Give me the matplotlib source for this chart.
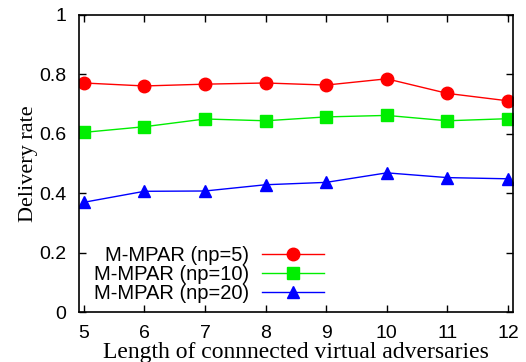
import numpy as np
import matplotlib
matplotlib.use('Agg')
import matplotlib.pyplot as plt

# Delivery rate vs. length of connected virtual adversaries
lengths = [5, 6, 7, 8, 9, 10, 11, 12]
np5 = [0.771, 0.761, 0.767, 0.771, 0.764, 0.785, 0.736, 0.711]
np10 = [0.605, 0.624, 0.650, 0.644, 0.657, 0.662, 0.644, 0.651]
np20 = [0.370, 0.407, 0.408, 0.429, 0.437, 0.469, 0.453, 0.449]
labels = ['M-MPAR (np=5)', 'M-MPAR (np=10)', 'M-MPAR (np=20)']

sans = 'Liberation Sans'
serif = 'Liberation Serif'

fig = plt.figure(figsize=(5.26, 3.62), dpi=100)
ax = fig.add_axes([0.150, 0.137, 0.825, 0.822])

ax.plot(lengths, np5, color='#ff0000', lw=1, marker='o', ms=9, label=labels[0])
ax.plot(lengths, np10, color='#00ee00', lw=1, marker='s', ms=9, label=labels[1])
ax.plot(lengths, np20, color='#0000ff', lw=1, marker='^', ms=9, label=labels[2])

ax.set_xlim(4.92, 12.08)
ax.set_ylim(0, 1)
ax.set_xticks(lengths)
ax.set_yticks([0, 0.2, 0.4, 0.6, 0.8, 1])
ax.set_yticklabels(['0', '0.2', '0.4', '0.6', '0.8', '1'])
ax.tick_params(direction='in', top=True, right=True, length=5, width=1,
               labelsize=14, pad=9)
for lab in ax.get_xticklabels() + ax.get_yticklabels():
    lab.set_fontfamily(sans)
for s in ax.spines.values():
    s.set_linewidth(1.2)

ax.set_xlabel('Length of connnected virtual adversaries', fontfamily=serif,
              fontsize=17, labelpad=0)
ax.set_ylabel('Delivery rate', fontfamily=serif, fontsize=16, labelpad=1)

leg = ax.legend(loc='lower left', bbox_to_anchor=(0.035, 0.03), frameon=False,
                markerfirst=False, prop={'family': sans, 'size': 14.5},
                handlelength=3.05, handletextpad=0.65, labelspacing=0.0,
                borderaxespad=0, borderpad=0)

fig.savefig('out.png', dpi=100)
